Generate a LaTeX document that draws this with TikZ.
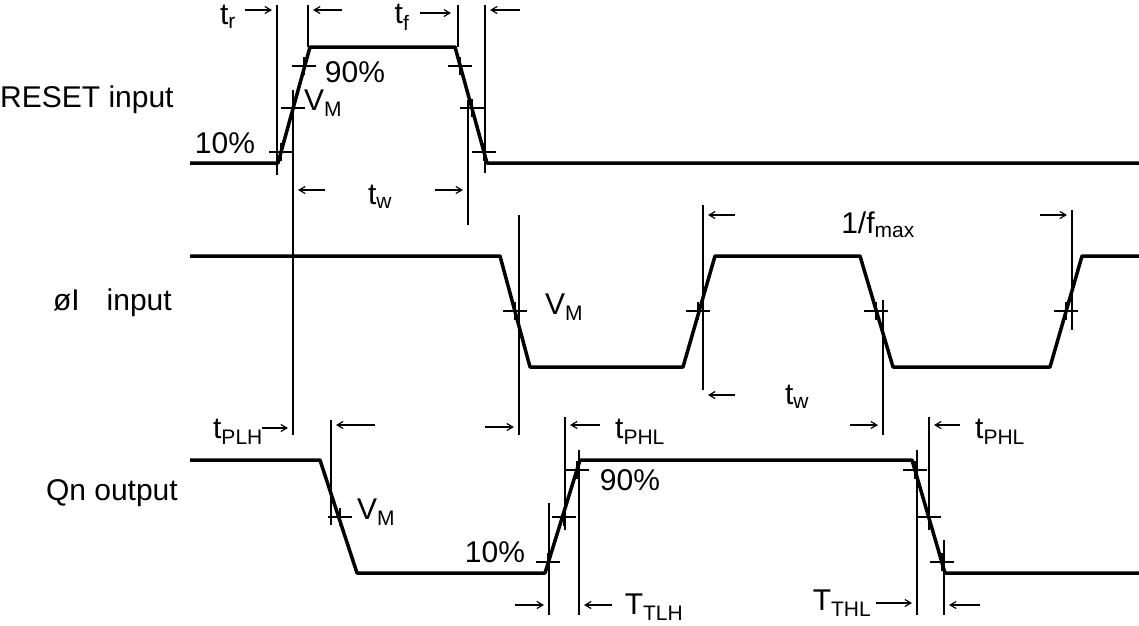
\documentclass[tikz,border=0pt]{standalone}
\usepackage{fontspec}
\setmainfont{Liberation Sans}
\usetikzlibrary{arrows.meta}
\begin{document}
\begin{tikzpicture}[x=1pt,y=-1pt,
    sig/.style={line width=3.5pt,line join=round},
    ref/.style={line width=1.4pt},
    tk/.style={line width=1.2pt},
    dim/.style={line width=1.2pt,-{Straight Barb[length=6pt,width=7pt]}},
    lbl/.style={font=\fontsize{30}{33}\selectfont,inner sep=0pt}
  ]
  \useasboundingbox (0,0) rectangle (1139,625);

  % Signals %
  \draw[sig] (190,163) -- (278,163) -- (310,47) -- (455,47) -- (487,163) -- (1139,163);
  \draw[sig] (190,256) -- (500,256) -- (530,367) -- (683,367) -- (715,256) -- (860,256)
     -- (893,367) -- (1050,367) -- (1082,256) -- (1139,256);
  \draw[sig] (190,460) -- (320,460) -- (357,573) -- (545,573) -- (580,460) -- (912,460)
     -- (945,573) -- (1139,573);

  % Level ticks %
  \foreach \x/\y in {281/152,293/108,304/66, 484/152,472/108,460/66,
                     515/311,698/311,876/311,1066/311,
                     340/517,548/562,564/517,577/470,915/470,929/517,942/562}
    \draw[tk] (\x-12,\y) -- (\x+12,\y) (\x,\y-9) -- (\x,\y+9);

  % Reference lines %
  \draw[ref] (277,5) -- (277,175);
  \draw[ref] (308,5) -- (308,47);
  \draw[ref] (458,5) -- (458,47);
  \draw[ref] (485,5) -- (485,173);
  \draw[ref] (293,90) -- (293,435);
  \draw[ref] (468,100) -- (468,225);
  \draw[ref] (519,215) -- (519,435);
  \draw[ref] (703,205) -- (703,390);
  \draw[ref] (1072,210) -- (1072,330);
  \draw[ref] (883,300) -- (883,435);
  \draw[ref] (331,420) -- (331,525);
  \draw[ref] (565,417) -- (565,530);
  \draw[ref] (929,417) -- (929,530);
  \draw[ref] (549,503) -- (549,615);
  \draw[ref] (579,450) -- (579,615);
  \draw[ref] (917,450) -- (917,615);
  \draw[ref] (944,540) -- (944,615);

  % Dimension arrows %
  \draw[dim] (245,10) -- (272,10);
  \draw[dim] (342,10) -- (313,10);
  \draw[dim] (420,13) -- (451,13);
  \draw[dim] (520,10) -- (490,10);
  \draw[dim] (325,190) -- (298,190);
  \draw[dim] (435,190) -- (463,190);
  \draw[dim] (735,215) -- (708,215);
  \draw[dim] (1040,215) -- (1067,215);
  \draw[dim] (735,395) -- (708,395);
  \draw[dim] (850,425) -- (878,425);
  \draw[dim] (262,428) -- (288,428);
  \draw[dim] (375,425) -- (336,425);
  \draw[dim] (485,427) -- (514,427);
  \draw[dim] (600,425) -- (570,425);
  \draw[dim] (960,425) -- (934,425);
  \draw[dim] (515,605) -- (544,605);
  \draw[dim] (612,605) -- (584,605);
  \draw[dim] (876,603) -- (912,603);
  \draw[dim] (980,605) -- (949,605);

  % Labels %
  \node[lbl,anchor=west] (lrst) at (0,100) {RESET input};
  \node[lbl,anchor=east] (lphi) at (172,303) {øI\hspace{0.9em}input};
  \node[lbl,anchor=east] (lqn) at (178,493) {Qn output};
  \node[lbl] (ltr) at (228,17) {t\textsubscript{r}};
  \node[lbl] (ltf) at (402,17) {t\textsubscript{f}};
  \node[lbl] (lr10) at (225,143) {10\%};
  \node[lbl] (lr90) at (355,72) {90\%};
  \node[lbl] (lrvm) at (323,103) {V\textsubscript{M}};
  \node[lbl] (ltw1) at (380,197) {t\textsubscript{w}};
  \node[lbl] (lfmax) at (878,225) {1/f\textsubscript{max}};
  \node[lbl] (lpvm) at (564,307) {V\textsubscript{M}};
  \node[lbl] (ltw2) at (797,397) {t\textsubscript{w}};
  \node[lbl] (ltplh) at (238,432) {t\textsubscript{PLH}};
  \node[lbl] (ltphl1) at (640,432) {t\textsubscript{PHL}};
  \node[lbl] (ltphl2) at (1000,432) {t\textsubscript{PHL}};
  \node[lbl] (lqvm) at (376,512) {V\textsubscript{M}};
  \node[lbl] (lq10) at (495,552) {10\%};
  \node[lbl] (lq90) at (630,480) {90\%};
  \node[lbl] (lttlh) at (654,607) {T\textsubscript{TLH}};
  \node[lbl] (lt thl) at (842,603) {T\textsubscript{THL}};
\end{tikzpicture}
\end{document}
